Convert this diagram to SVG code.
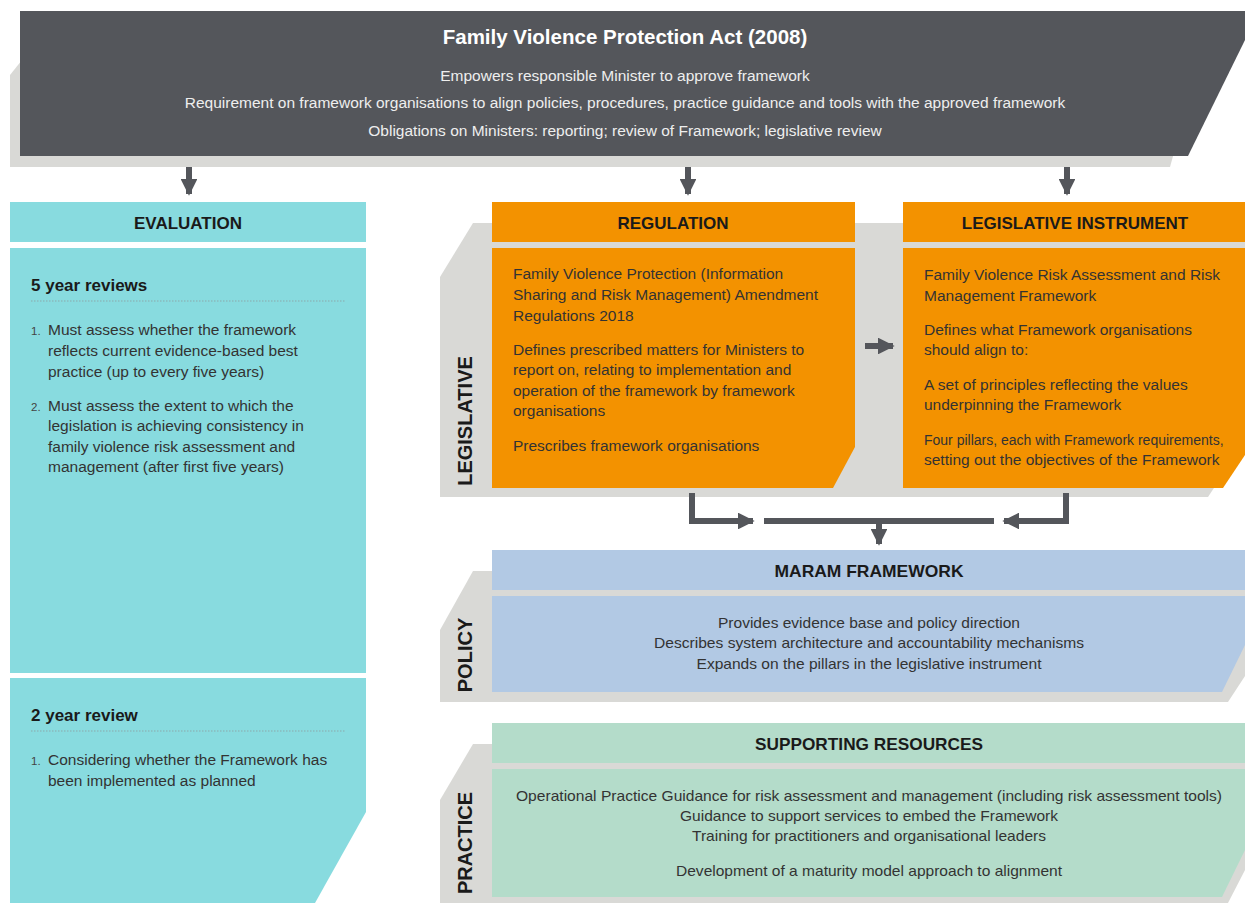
<svg xmlns="http://www.w3.org/2000/svg" width="1245" height="903" viewBox="0 0 1245 903">
<defs>
<style>
.t{font-family:"Liberation Sans",Arial,sans-serif;font-size:15.5px;fill:#333;}
.tw{font-family:"Liberation Sans",Arial,sans-serif;font-size:15.5px;fill:#eeeeee;}
.h{font-family:"Liberation Sans",Arial,sans-serif;font-size:17px;font-weight:bold;fill:#1a1a1a;}
.hn{font-family:"Liberation Sans Narrow","Liberation Sans",Arial,sans-serif;font-size:16.5px;font-weight:bold;fill:#1a1a1a;}
.n{font-family:"Liberation Sans Narrow","Liberation Sans",Arial,sans-serif;font-size:15px;fill:#333;}
.num{font-family:"Liberation Sans",Arial,sans-serif;font-size:11.5px;fill:#444;}
.rot{font-family:"Liberation Sans",Arial,sans-serif;font-size:20px;font-weight:bold;fill:#1a1a1a;}
.band{fill:#d9d9d6;}
.dark{fill:#54565b;}
.cyan{fill:#88dbdf;}
.orange{fill:#f39200;}
.blue{fill:#b2c9e4;}
.mint{fill:#b4dcca;}
.conn{fill:none;stroke:#54565b;stroke-width:6;}
.dot{stroke:#8aa9ab;stroke-width:1;stroke-dasharray:1.5 1.5;}
</style>
<marker id="ah" viewBox="0 0 10 10" refX="9" refY="5" markerWidth="2.8" markerHeight="2.8" orient="auto" markerUnits="strokeWidth">
<path d="M0,0 L10,5 L0,10 Z" fill="#54565b"/>
</marker>
</defs>

<!-- Background bands -->
<g id="bands">
<polygon class="band" points="10,75 22,60 1200,60 1170,167 10,167"/>
<polygon class="band" points="440,277 473,223 1245,223 1245,441 1208,497 440,497"/>
<polygon class="band" points="440,630 473,571 1245,571 1245,676 1228,702 440,702"/>
<polygon class="band" points="440,800 473,744 1245,744 1245,870 1228,903 440,903"/>
</g>

<g id="act">
<polygon class="dark" points="20,11 1245,11 1245,40 1188,156 20,156"/>
<text x="625" y="44" text-anchor="middle" style="font-family:'Liberation Sans',Arial,sans-serif;font-size:20.5px;font-weight:bold;fill:#ffffff;">Family Violence Protection Act (2008)</text>
<text class="tw" x="625" y="81" text-anchor="middle">Empowers responsible Minister to approve framework</text>
<text class="tw" x="625" y="108" text-anchor="middle">Requirement on framework organisations to align policies, procedures, practice guidance and tools with the approved framework</text>
<text class="tw" x="625" y="136" text-anchor="middle">Obligations on Ministers: reporting; review of Framework; legislative review</text>
</g>

<g id="evaluation">
<rect class="cyan" x="10" y="202" width="356" height="40"/>
<text class="h" x="188" y="229" text-anchor="middle">EVALUATION</text>
<rect class="cyan" x="10" y="248" width="356" height="425"/>
<text class="h" x="31" y="291">5 year reviews</text>
<line class="dot" x1="31" y1="301" x2="346" y2="301"/>
<text class="num" x="31" y="335">1.</text>
<text class="t" x="48" y="335">Must assess whether the framework</text>
<text class="t" x="48" y="356">reflects current evidence-based best</text>
<text class="t" x="48" y="377">practice (up to every five years)</text>
<text class="num" x="31" y="411">2.</text>
<text class="t" x="48" y="411">Must assess the extent to which the</text>
<text class="t" x="48" y="431">legislation is achieving consistency in</text>
<text class="t" x="48" y="452">family violence risk assessment and</text>
<text class="t" x="48" y="472">management (after first five years)</text>
</g>

<g id="evaluation-2year">
<polygon class="cyan" points="10,678 366,678 366,812 315,903 10,903"/>
<text class="h" x="31" y="721">2 year review</text>
<line class="dot" x1="31" y1="731" x2="346" y2="731"/>
<text class="num" x="31" y="765">1.</text>
<text class="t" x="48" y="765">Considering whether the Framework has</text>
<text class="t" x="48" y="786">been implemented as planned</text>
</g>

<g id="legislative-label">
<text class="rot" transform="translate(472,421) rotate(-90)" text-anchor="middle">LEGISLATIVE</text>
</g>

<g id="regulation">
<rect class="orange" x="492" y="202" width="363" height="40"/>
<text class="h" x="673" y="229" text-anchor="middle">REGULATION</text>
<polygon class="orange" points="492,248 855,248 855,447 833,488 492,488"/>
<text class="t" x="513" y="279">Family Violence Protection (Information</text>
<text class="t" x="513" y="300">Sharing and Risk Management) Amendment</text>
<text class="t" x="513" y="321">Regulations 2018</text>
<text class="t" x="513" y="355">Defines prescribed matters for Ministers to</text>
<text class="t" x="513" y="375">report on, relating to implementation and</text>
<text class="t" x="513" y="396">operation of the framework by framework</text>
<text class="t" x="513" y="416">organisations</text>
<text class="t" x="513" y="451">Prescribes framework organisations</text>
</g>

<g id="instrument">
<rect class="orange" x="903" y="202" width="342" height="40"/>
<text class="h" x="1075" y="229" text-anchor="middle">LEGISLATIVE INSTRUMENT</text>
<polygon class="orange" points="903,248 1245,248 1245,455 1223,488 903,488"/>
<text class="t" x="924" y="280">Family Violence Risk Assessment and Risk</text>
<text class="t" x="924" y="301">Management Framework</text>
<text class="t" x="924" y="335">Defines what Framework organisations</text>
<text class="t" x="924" y="355">should align to:</text>
<text class="t" x="924" y="390">A set of principles reflecting the values</text>
<text class="t" x="924" y="410">underpinning the Framework</text>
<text class="t" x="924" y="445" style="font-size:14px">Four pillars, each with Framework requirements,</text>
<text class="t" x="924" y="465">setting out the objectives of the Framework</text>
</g>

<g id="policy">
<rect class="blue" x="492" y="550" width="753" height="40"/>
<text class="hn" x="869" y="577" text-anchor="middle" textLength="189" lengthAdjust="spacingAndGlyphs">MARAM FRAMEWORK</text>
<polygon class="blue" points="492,596 1245,596 1245,645 1222,692 492,692"/>
<text class="n" x="869" y="628" text-anchor="middle" textLength="302" lengthAdjust="spacingAndGlyphs">Provides evidence base and policy direction</text>
<text class="n" x="869" y="648" text-anchor="middle" textLength="430" lengthAdjust="spacingAndGlyphs">Describes system architecture and accountability mechanisms</text>
<text class="n" x="869" y="669" text-anchor="middle" textLength="345" lengthAdjust="spacingAndGlyphs">Expands on the pillars in the legislative instrument</text>
<text class="rot" transform="translate(472,655) rotate(-90)" text-anchor="middle">POLICY</text>
</g>

<g id="practice">
<rect class="mint" x="492" y="723" width="753" height="40"/>
<text class="hn" x="869" y="750" text-anchor="middle" textLength="228" lengthAdjust="spacingAndGlyphs">SUPPORTING RESOURCES</text>
<polygon class="mint" points="492,769 1245,769 1245,850 1222,897 492,897"/>
<text class="n" x="869" y="801" text-anchor="middle" textLength="706" lengthAdjust="spacingAndGlyphs">Operational Practice Guidance for risk assessment and management (including risk assessment tools)</text>
<text class="n" x="869" y="821" text-anchor="middle" textLength="378" lengthAdjust="spacingAndGlyphs">Guidance to support services to embed the Framework</text>
<text class="n" x="869" y="841" text-anchor="middle" textLength="354" lengthAdjust="spacingAndGlyphs">Training for practitioners and organisational leaders</text>
<text class="n" x="869" y="876" text-anchor="middle" textLength="386" lengthAdjust="spacingAndGlyphs">Development of a maturity model approach to alignment</text>
<text class="rot" transform="translate(472,843) rotate(-90)" text-anchor="middle">PRACTICE</text>
</g>

<g id="connectors">
<line class="conn" x1="189" y1="167" x2="189" y2="194" marker-end="url(#ah)"/>
<line class="conn" x1="688" y1="167" x2="688" y2="194" marker-end="url(#ah)"/>
<line class="conn" x1="1067" y1="167" x2="1067" y2="194" marker-end="url(#ah)"/>
<line class="conn" x1="865" y1="346" x2="893" y2="346" marker-end="url(#ah)"/>
<polyline class="conn" points="692,493 692,521 753,521" marker-end="url(#ah)"/>
<polyline class="conn" points="1066,493 1066,521 1004,521" marker-end="url(#ah)"/>
<line class="conn" x1="764" y1="521" x2="994" y2="521"/>
<line class="conn" x1="879" y1="521" x2="879" y2="544" marker-end="url(#ah)"/>
</g>
</svg>
